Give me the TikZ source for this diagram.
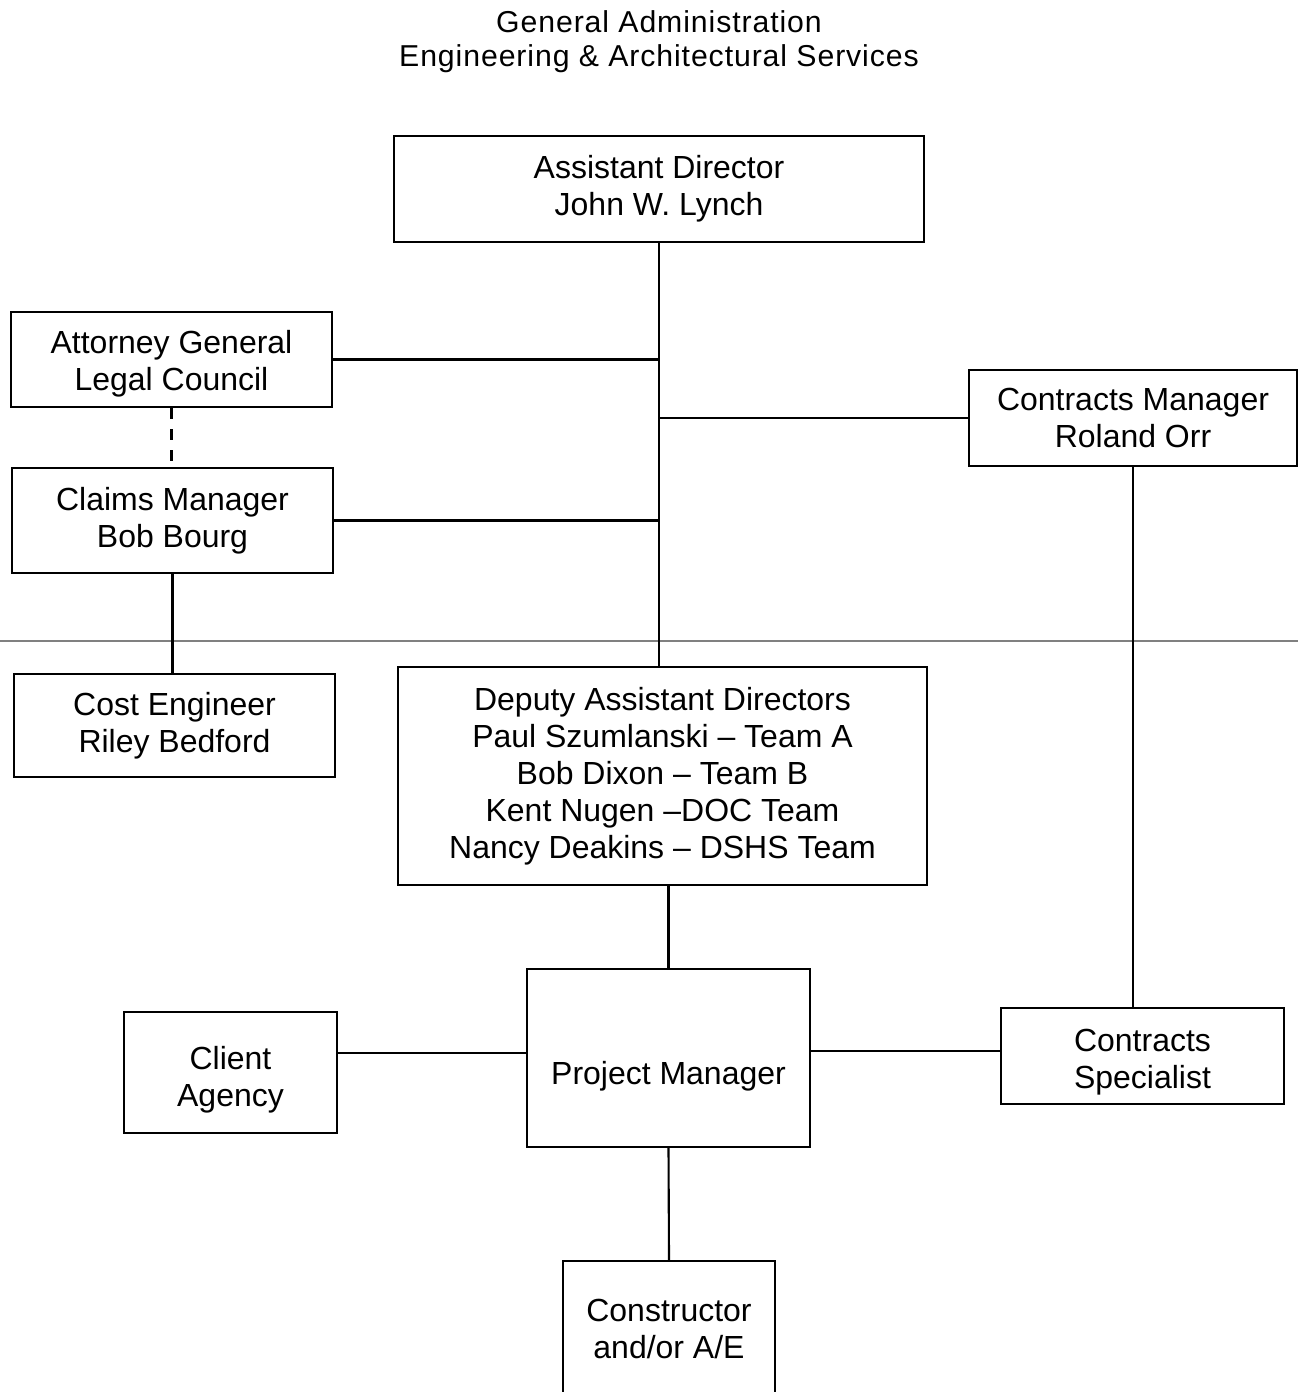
\documentclass[tikz,border=0pt]{standalone}
\usepackage{fontspec}
\setmainfont{Liberation Sans}
\newfontfamily\titlefont[LetterSpace=3]{Liberation Sans}
\usetikzlibrary{positioning}
\tikzset{
  box/.style={draw, line width=0.6pt, align=center, inner sep=0pt,
    font=\fontsize{9.1}{10.5}\selectfont},
  lowtext/.style={execute at begin node={\rule{0pt}{#1}}},
  link/.style={line width=0.6pt},
}
\begin{document}
\begin{tikzpicture}
  \useasboundingbox (0,0) rectangle (12.98,-13.92);
  \node[align=center, font=\titlefont\fontsize{8.6}{9.7}\selectfont] (title) at (6.59,-0.42)
    {General Administration\\Engineering \& Architectural Services};
  % upper part
  \node[box, minimum width=5.30cm, minimum height=1.06cm] (ad) at (6.59,-1.89) {Assistant Director\\John W. Lynch};
  \node[box, lowtext=0.68cm, minimum width=3.21cm, minimum height=0.95cm] (ag) at (1.715,-3.595) {Attorney General\\Legal Council};
  \node[box, minimum width=3.21cm, minimum height=1.05cm] (claims) at (1.725,-5.205) {Claims Manager\\Bob Bourg};
  \node[box, minimum width=3.28cm, minimum height=0.96cm] (km) at (11.33,-4.18) {Contracts Manager\\Roland Orr};
  \coordinate (rl) at (0,-6.41); \coordinate (rr) at (12.98,-6.41);
  \draw[gray, line width=0.4pt] (rl) -- (rr);
  % lower part
  \node[box, minimum width=3.21cm, minimum height=1.03cm] (ce) at (1.745,-7.255) {Cost Engineer\\Riley Bedford};
  \node[box, minimum width=5.29cm, minimum height=2.18cm] (dad) at (6.625,-7.76)
    {Deputy Assistant Directors\\Paul Szumlanski -- Team A\\Bob Dixon -- Team B\\Kent Nugen --DOC Team\\Nancy Deakins -- DSHS Team};
  \node[box, lowtext=0.59cm, minimum width=2.83cm, minimum height=1.78cm] (pm) at (6.685,-10.58) {Project Manager};
  \node[box, lowtext=0.74cm, minimum width=2.13cm, minimum height=1.21cm] (client) at (2.305,-10.725) {Client\\Agency};
  \node[box, lowtext=0.72cm, minimum width=2.83cm, minimum height=0.96cm] (cs) at (11.425,-10.56) {Contracts\\Specialist};
  \node[box, minimum width=2.12cm, minimum height=1.36cm] (con) at (6.69,-13.29) {Constructor\\and/or A/E};
  % connectors
  \draw[link] (ad.south) -- (ad.south |- dad.north);
  \draw[link] (ag.east) -- (ag.east -| ad.south);
  \draw[link] (claims.east) -- (claims.east -| ad.south);
  \draw[link] (km.west) -- (km.west -| ad.south);
  \draw[link, dashed] (ag.south) -- (ag.south |- claims.north);
  \draw[link] (claims.south) -- (claims.south |- ce.north);
  \draw[link] (km.south) -- (km.south |- cs.north);
  \draw[link] (pm.north) -- (pm.north |- dad.south);
  \draw[link] ([yshift=0.05cm]pm.west) -- ([yshift=0.05cm]pm.west -| client.east);
  \draw[link] ([yshift=0.07cm]pm.east) -- ([yshift=0.07cm]pm.east -| cs.west);
  \draw[link] (pm.south) -- (con.north);
\end{tikzpicture}
\end{document}
